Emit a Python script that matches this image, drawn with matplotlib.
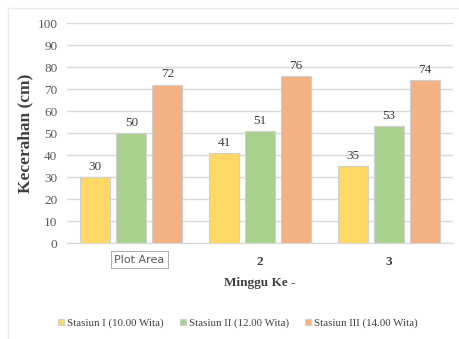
import matplotlib
matplotlib.use('Agg')
import matplotlib.pyplot as plt
import numpy as np
from matplotlib.lines import Line2D

# data
weeks = ['1', '2', '3']
series_names = ['Stasiun I (10.00 Wita)', 'Stasiun II (12.00 Wita)', 'Stasiun III (14.00 Wita)']
stasiun1 = [30, 41, 35]
stasiun2 = [50, 51, 53]
stasiun3 = [72, 76, 74]
colors = ['#FFD966', '#A9D18E', '#F4B183']

plt.rcParams['font.family'] = ['Liberation Serif', 'DejaVu Serif']

fig = plt.figure(figsize=(4.6, 3.39), dpi=100)
ax = fig.add_axes([0.1457, 0.283, 0.839, 0.649])

x = np.arange(len(weeks))
w = 0.233
step = 0.28
for i, vals in enumerate([stasiun1, stasiun2, stasiun3]):
    bars = ax.bar(x + (i - 1) * step, vals, width=w, color=colors[i],
                  edgecolor='#D0D0D0', linewidth=0.8, label=series_names[i], zorder=3)
    ax.bar_label(bars, padding=3, fontsize=9.5, color='#404040')

ax.set_xlim(-0.5, 2.5)
ax.set_ylim(0, 100)
ax.set_yticks(range(0, 101, 10))
ax.yaxis.grid(True, color='#D9D9D9', linewidth=1, zorder=0)
for s in ['top', 'right', 'left']:
    ax.spines[s].set_visible(False)
ax.spines['bottom'].set_color('#D9D9D9')
ax.tick_params(axis='both', length=0, labelsize=9.5, colors='#595959')
ax.tick_params(axis='y', pad=7)
ax.set_xticks(x)
ax.set_xticklabels(['', '2', '3'], fontweight='bold', color='#404040')
ax.tick_params(axis='x', pad=9)

ax.set_ylabel('Kecerahan (cm)', fontsize=12.5, fontweight='bold', color='#404040', labelpad=3)
ax.set_xlabel('Minggu Ke -', fontsize=9.5, fontweight='bold', color='#404040', labelpad=7)

# tooltip box left over from the editor
ax.text(0.187, -0.075, 'Plot Area', transform=ax.transAxes, ha='center', va='center',
        fontsize=8, color='#595959', family=['DejaVu Sans'],
        bbox=dict(boxstyle='square,pad=0.3', facecolor='white', edgecolor='#A0A0A0', linewidth=0.6))

fig.legend(loc='center', bbox_to_anchor=(0.517, 0.047), ncol=3, frameon=False,
           fontsize=7.8, handlelength=0.55, handleheight=0.55, handletextpad=0.3,
           columnspacing=1.5, labelcolor='#404040')

# faint chart frame
fig.add_artist(Line2D([0.018, 0.018], [0.0, 0.976], color='#EBEBEB', linewidth=1))
fig.add_artist(Line2D([0.018, 1.0], [0.976, 0.976], color='#EBEBEB', linewidth=1))

fig.savefig('out.png', dpi=100)
